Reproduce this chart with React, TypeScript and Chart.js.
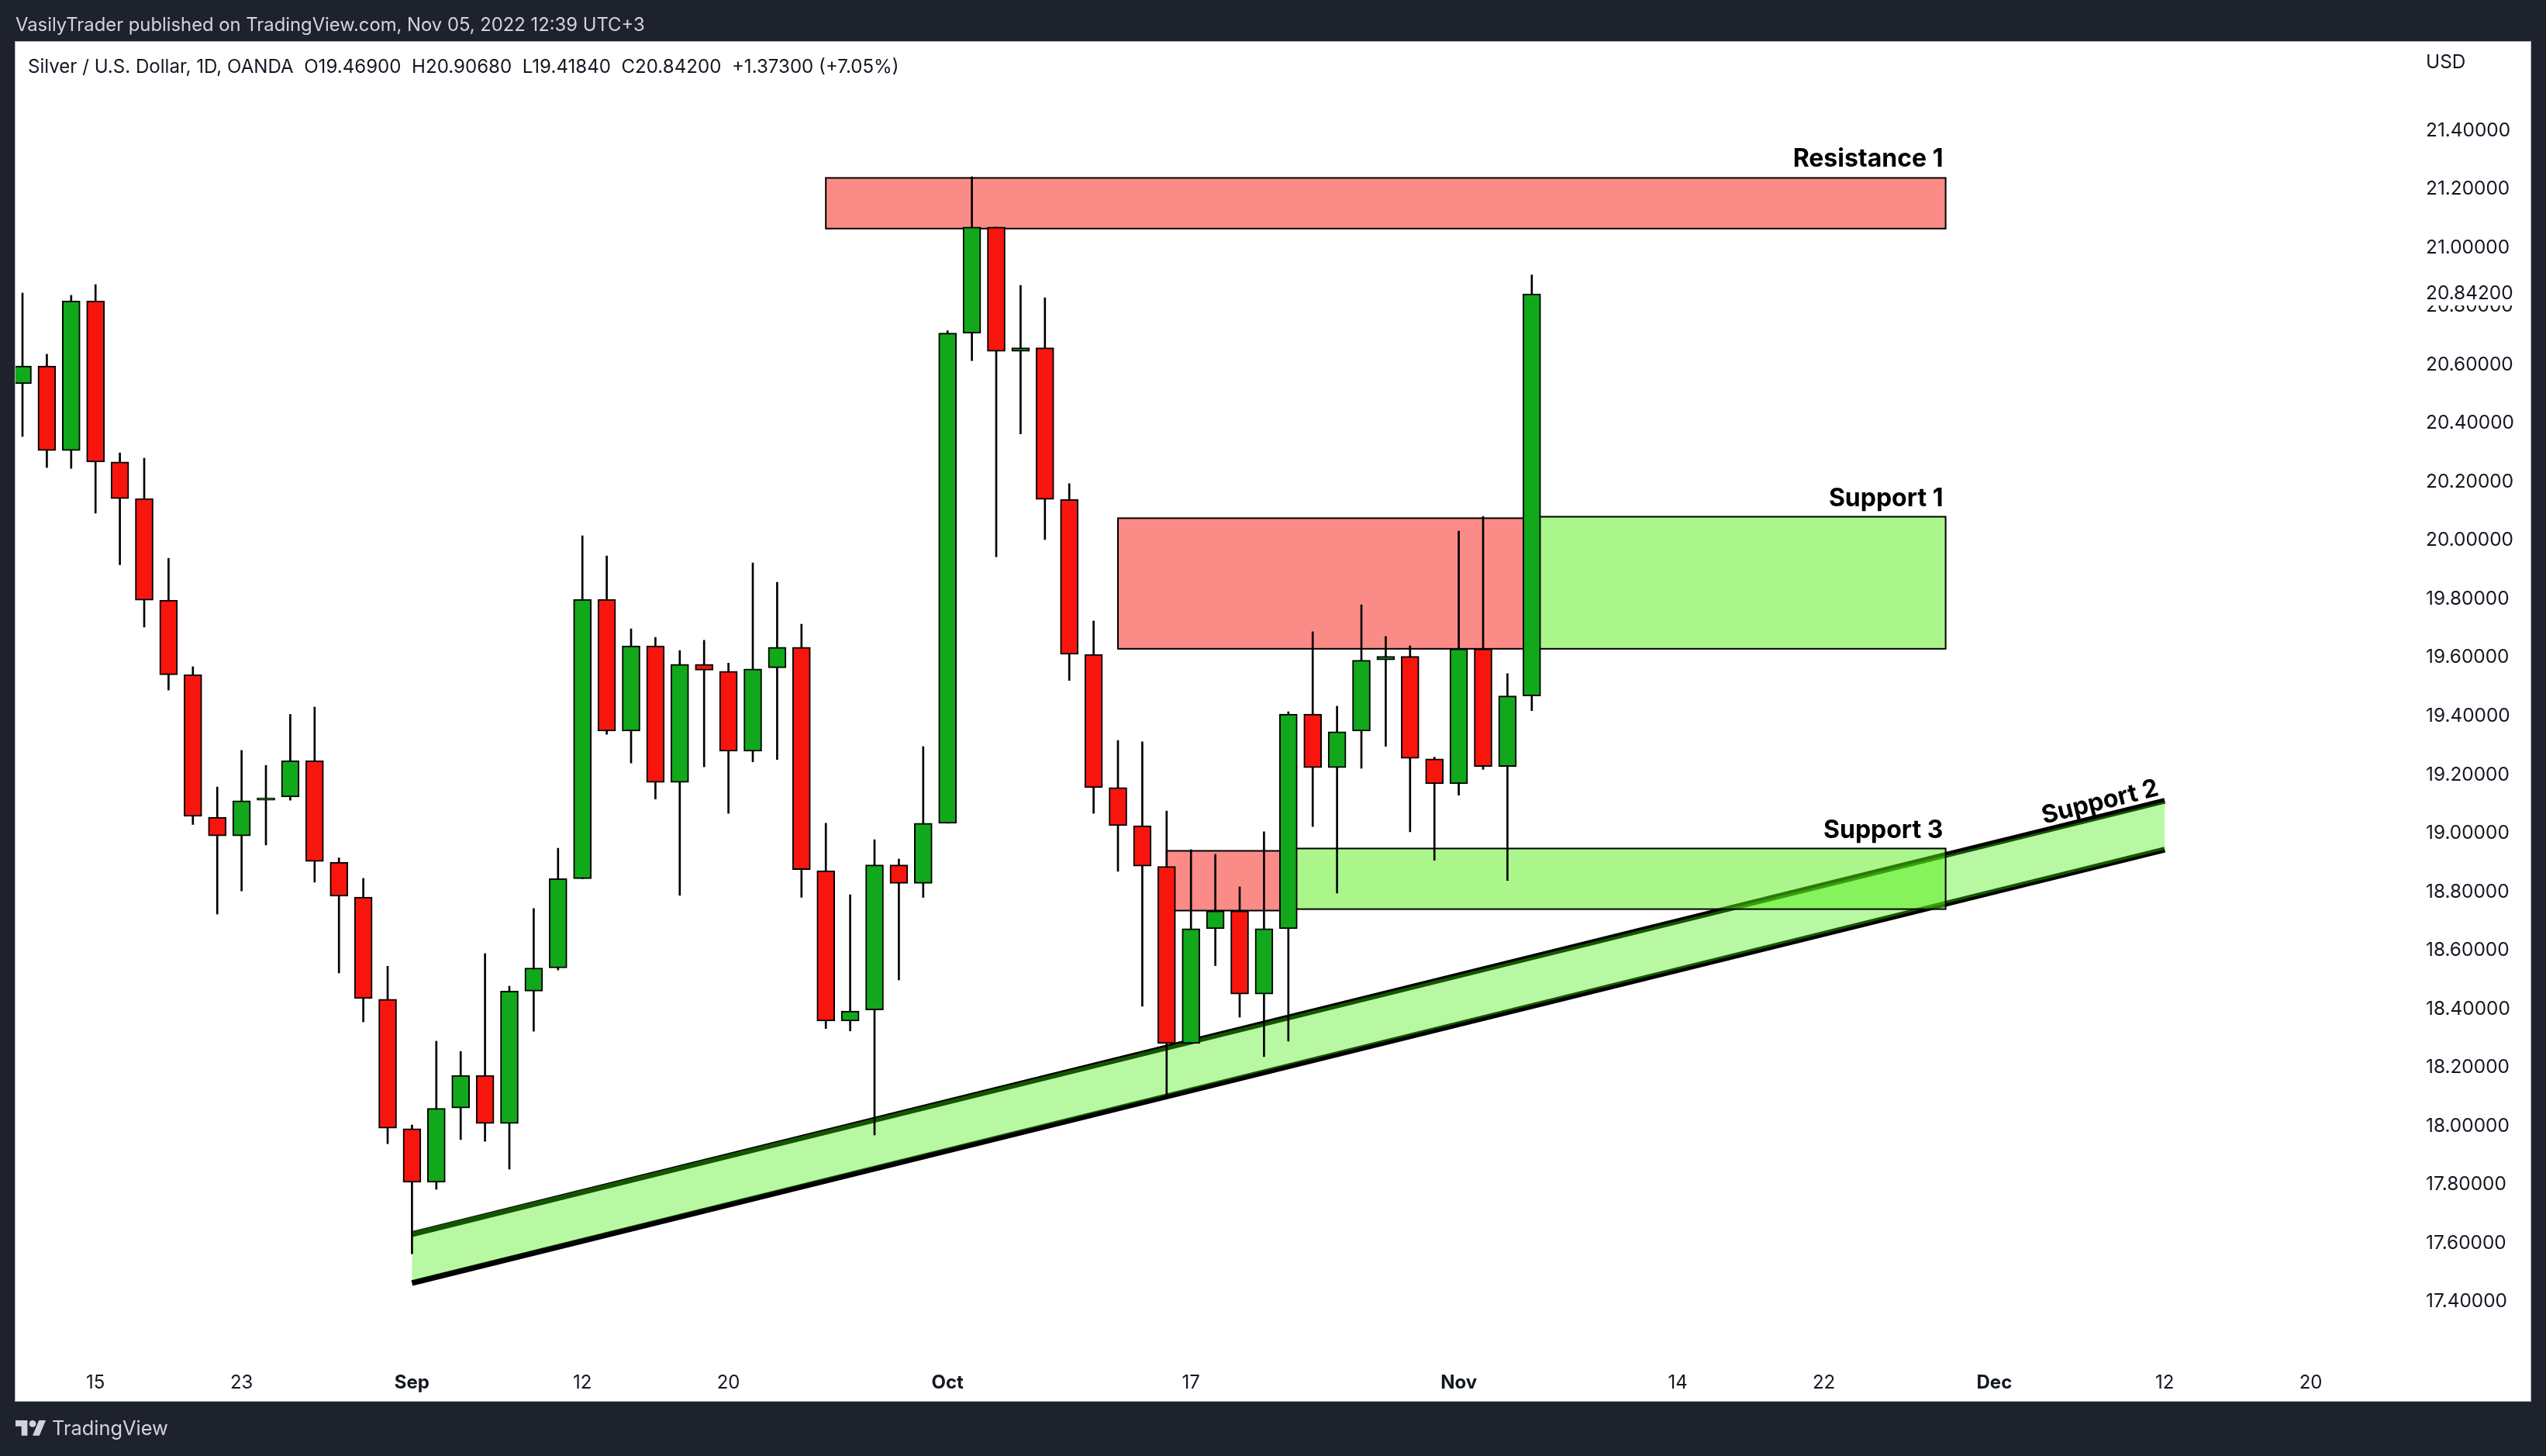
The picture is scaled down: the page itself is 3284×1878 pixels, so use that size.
import { useEffect, useRef } from 'react'
import { Chart, registerables, Plugin } from 'chart.js'

Chart.register(...registerables)

// candles, one per trading day starting Aug 10 2022
const opens = [
  20.535, 20.596, 20.307, 20.818, 20.268, 20.143, 19.796, 19.541, 19.055, 18.991, 19.113, 19.124, 19.248, 18.901, 18.782, 18.433,
  17.991, 17.808, 18.062, 18.173, 18.009, 18.461, 18.54, 18.845, 19.799, 19.349, 19.64, 19.174, 19.577, 19.553, 19.28, 19.565,
  19.635, 18.872, 18.359, 18.397, 18.892, 18.829, 19.034, 20.708, 21.07, 20.646, 20.658, 20.14, 19.611, 19.156, 19.026, 18.887,
  18.282, 18.674, 18.735, 18.451, 18.674, 19.407, 19.224, 19.349, 19.592, 19.604, 19.254, 19.169, 19.63, 19.228, 19.469,
]
const highs = [
  20.845, 20.636, 20.837, 20.874, 20.299, 20.281, 19.939, 19.569, 19.158, 19.283, 19.232, 19.406, 19.431, 18.916, 18.846, 18.546,
  18.004, 18.29, 18.255, 18.589, 18.478, 18.743, 18.949, 20.016, 19.947, 19.698, 19.669, 19.624, 19.659, 19.581, 19.923, 19.857,
  19.714, 19.034, 18.79, 18.978, 18.912, 19.296, 20.716, 21.242, 21.07, 20.871, 20.829, 20.194, 19.725, 19.317, 19.312, 19.076,
  18.944, 18.928, 18.817, 19.005, 19.415, 19.688, 19.434, 19.78, 19.672, 19.64, 19.26, 20.032, 20.082, 19.545, 20.9068,
]
const lows = [
  20.355, 20.249, 20.246, 20.093, 19.917, 19.704, 19.489, 19.03, 18.724, 18.803, 18.96, 19.113, 18.833, 18.523, 18.356, 17.94,
  17.564, 17.784, 17.954, 17.948, 17.853, 18.324, 18.533, 18.845, 19.338, 19.24, 19.117, 18.788, 19.227, 19.068, 19.244, 19.252,
  18.781, 18.333, 18.325, 17.97, 18.499, 18.781, 19.034, 20.614, 19.944, 20.364, 20.003, 19.522, 19.068, 18.87, 18.409, 18.107,
  18.282, 18.548, 18.372, 18.237, 18.29, 19.023, 18.796, 19.222, 19.297, 19.005, 18.908, 19.13, 19.218, 18.839, 19.4184,
]
const closes = [
  20.596, 20.307, 20.818, 20.268, 20.143, 19.796, 19.541, 19.058, 18.991, 19.111, 19.121, 19.248, 18.904, 18.785, 18.436, 17.993,
  17.808, 18.061, 18.173, 18.009, 18.461, 18.54, 18.845, 19.799, 19.349, 19.64, 19.174, 19.577, 19.557, 19.28, 19.561, 19.635,
  18.876, 18.359, 18.393, 18.892, 18.829, 19.034, 20.708, 21.07, 20.646, 20.658, 20.14, 19.611, 19.156, 19.026, 18.888, 18.282,
  18.674, 18.735, 18.451, 18.674, 19.407, 19.224, 19.347, 19.591, 19.604, 19.256, 19.169, 19.63, 19.228, 19.469, 20.842,
]

const priceTicks = [
  17.4, 17.6, 17.8, 18, 18.2, 18.4, 18.6, 18.8, 19, 19.2, 19.4, 19.6, 19.8, 20, 20.2, 20.4, 20.6, 20.8, 21, 21.2, 21.4,
]
const lastPrice = 20.842

const dateTickIndex = [3, 9, 16, 23, 29, 38, 48, 59, 68, 74, 81, 88, 94]
const dateTickLabels = ['15', '23', 'Sep', '12', '20', 'Oct', '17', 'Nov', '14', '22', 'Dec', '12', '20']
const monthLabels = ['Sep', 'Oct', 'Nov', 'Dec']

// drawn rectangles, in bar index / price
const zoneStart = [33, 45, 62, 47, 52]
const zoneEnd = [79, 62, 79, 52, 79]
const zoneHigh = [21.238, 20.076, 20.081, 18.94, 18.948]
const zoneLow = [21.065, 19.63, 19.63, 18.736, 18.741]
const zoneKind = ['red', 'red', 'green', 'red', 'green']

// rising channel, the fill does not sit exactly on the two border lines
const channelX = [16, 88]
const channelUpper = [17.631, 19.111]
const channelLower = [17.464, 18.944]
const channelFillUpper = [17.639, 19.108]
const channelFillLower = [17.473, 18.944]

const noteTexts = ['Resistance 1', 'Support 1', 'Support 3', 'Support 2']
const noteX = [78.9, 78.9, 78.9, 87.8]
const noteY = [21.276, 20.118, 18.984, 19.13]
const noteTilted = [false, false, false, true]

const INK = '#131722'
const FRAME = '#1e222d'
const FONT = 'Inter, sans-serif'

const drawingsPlugin: Plugin = {
  id: 'drawings',
  beforeDraw(chart) {
    const { ctx, width, height } = chart
    ctx.save()
    ctx.fillStyle = FRAME
    ctx.fillRect(0, 0, width, height)
    ctx.fillStyle = '#ffffff'
    ctx.fillRect(20, 54, 3244, 1753)
    ctx.strokeStyle = '#b2b5be'
    ctx.lineWidth = 1
    ctx.strokeRect(19.5, 53.5, 3245, 1754)
    ctx.restore()
  },
  beforeDatasetsDraw(chart) {
    const { ctx } = chart
    const x = chart.scales.x
    const y = chart.scales.y
    const x0 = x.getPixelForValue(channelX[0])
    const x1 = x.getPixelForValue(channelX[1])

    ctx.save()
    // channel borders first, its translucent fill goes over them
    ctx.strokeStyle = '#000000'
    ctx.lineWidth = 7.5
    for (const edge of [channelUpper, channelLower]) {
      ctx.beginPath()
      ctx.moveTo(x0, y.getPixelForValue(edge[0]))
      ctx.lineTo(x1, y.getPixelForValue(edge[1]))
      ctx.stroke()
    }
    ctx.fillStyle = 'rgba(58, 235, 0, 0.36)'
    ctx.beginPath()
    ctx.moveTo(x0, y.getPixelForValue(channelFillUpper[0]))
    ctx.lineTo(x1, y.getPixelForValue(channelFillUpper[1]))
    ctx.lineTo(x1, y.getPixelForValue(channelFillLower[1]))
    ctx.lineTo(x0, y.getPixelForValue(channelFillLower[0]))
    ctx.closePath()
    ctx.fill()

    zoneStart.forEach((start, i) => {
      const left = x.getPixelForValue(start)
      const top = y.getPixelForValue(zoneHigh[i])
      const w = x.getPixelForValue(zoneEnd[i]) - left
      const h = y.getPixelForValue(zoneLow[i]) - top
      ctx.fillStyle = zoneKind[i] === 'red' ? '#fb8b87' : 'rgba(85, 237, 21, 0.5)'
      ctx.fillRect(left, top, w, h)
      ctx.strokeStyle = '#000000'
      ctx.lineWidth = 2
      ctx.strokeRect(left, top, w, h)
    })
    ctx.restore()
  },
  afterDraw(chart) {
    const { ctx } = chart
    const x = chart.scales.x
    const y = chart.scales.y
    ctx.save()
    ctx.textBaseline = 'middle'
    ctx.textAlign = 'left'

    ctx.fillStyle = '#d1d4dc'
    ctx.font = `23.8px ${FONT}`
    ctx.fillText('VasilyTrader published on TradingView.com, Nov 05, 2022 12:39 UTC+3', 20, 33)

    ctx.fillStyle = INK
    ctx.font = `24.1px ${FONT}`
    ctx.fillText(
      'Silver / U.S. Dollar, 1D, OANDA  O19.46900  H20.90680  L19.41840  C20.84200  +1.37300 (+7.05%)',
      36,
      87,
    )
    ctx.font = `24.4px ${FONT}`
    ctx.fillText('USD', 3129, 81)

    // last price sits over the regular tick behind it
    const lastY = y.getPixelForValue(lastPrice)
    ctx.fillStyle = '#ffffff'
    ctx.fillRect(3120, lastY - 15, 130, 30)
    ctx.fillStyle = INK
    ctx.fillText(lastPrice.toFixed(5), 3129, lastY)

    // tradingview mark
    ctx.save()
    ctx.translate(20, 1827.6)
    ctx.scale(1.1, 1.1)
    ctx.fillStyle = '#d1d4dc'
    ctx.fill(new Path2D('M14 22H7V11H0V4h14v18zM28 22h-8l7.5-18h8L28 22z'))
    ctx.beginPath()
    ctx.arc(20, 8, 4, 0, Math.PI * 2)
    ctx.fill()
    ctx.restore()
    ctx.fillStyle = '#d1d4dc'
    ctx.font = `25.4px ${FONT}`
    ctx.fillText('TradingView', 67, 1843)

    // zone captions
    ctx.fillStyle = '#000000'
    ctx.font = `700 32px ${FONT}`
    ctx.textBaseline = 'alphabetic'
    ctx.textAlign = 'right'
    const slope = Math.atan2(
      y.getPixelForValue(channelUpper[1]) - y.getPixelForValue(channelUpper[0]),
      x.getPixelForValue(channelX[1]) - x.getPixelForValue(channelX[0]),
    )
    noteTexts.forEach((text, i) => {
      ctx.save()
      ctx.translate(x.getPixelForValue(noteX[i]), y.getPixelForValue(noteY[i]))
      if (noteTilted[i]) ctx.rotate(slope)
      ctx.fillText(text, 0, 0)
      ctx.restore()
    })
    ctx.restore()
  },
}

export default function App() {
  const canvasRef = useRef<HTMLCanvasElement>(null)

  useEffect(() => {
    if (!canvasRef.current) return

    const chart = new Chart(canvasRef.current, {
      type: 'bar',
      data: {
        datasets: [
          {
            label: 'Body',
            order: 1,
            data: opens.map((o, i) => ({ x: i, y: [o, closes[i]] })) as any,
            barThickness: 23,
            grouped: false,
            borderWidth: 2,
            borderColor: '#000000',
            borderSkipped: false,
            backgroundColor: opens.map((o, i) => (closes[i] >= o ? '#11a81b' : '#f8150d')),
          },
          {
            label: 'Wick',
            order: 2,
            data: lows.map((l, i) => ({ x: i, y: [l, highs[i]] })) as any,
            barThickness: 2,
            grouped: false,
            borderWidth: 0,
            backgroundColor: '#000000',
          },
        ],
      },
      options: {
        responsive: false,
        animation: false,
        devicePixelRatio: 1,
        layout: { padding: { top: 54, left: 20, right: 20, bottom: 71 } },
        plugins: { legend: { display: false }, tooltip: { enabled: false } },
        scales: {
          x: {
            type: 'linear',
            offset: false,
            min: -0.287,
            max: 98.28,
            stacked: false,
            grid: { display: false, offset: false, drawTicks: false },
            border: { display: false },
            afterBuildTicks: (scale) => {
              scale.ticks = dateTickIndex.map((value) => ({ value }))
            },
            afterFit: (scale) => {
              scale.height = 41
            },
            ticks: {
              autoSkip: false,
              maxRotation: 0,
              padding: 3,
              color: INK,
              callback: (value) => dateTickLabels[dateTickIndex.indexOf(Number(value))],
              font: (ctx) => ({
                family: FONT,
                size: 24,
                weight: monthLabels.includes(dateTickLabels[dateTickIndex.indexOf(ctx.tick?.value)]) ? 'bold' : 'normal',
              }),
            },
          },
          y: {
            type: 'linear',
            position: 'right',
            min: 17.17,
            max: 21.7026,
            grid: { display: false, drawTicks: false },
            border: { display: false },
            afterBuildTicks: (scale) => {
              scale.ticks = priceTicks.map((value) => ({ value }))
            },
            afterFit: (scale) => {
              scale.width = 149
            },
            ticks: {
              padding: 14,
              color: INK,
              font: { family: FONT, size: 24.4 },
              callback: (value) => Number(value).toFixed(5),
            },
          },
        },
      },
      plugins: [drawingsPlugin],
    })

    return () => {
      chart.destroy()
    }
  }, [])

  return (
    <div style={{ position: 'fixed', left: 0, top: 0 }}>
      <canvas ref={canvasRef} width={3284} height={1878} style={{ display: 'block', width: 3284, height: 1878 }} />
    </div>
  )
}
